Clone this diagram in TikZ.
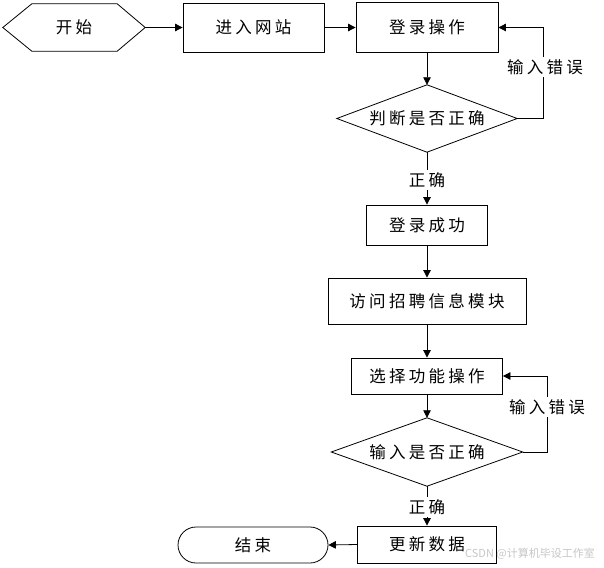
\documentclass[tikz,border=0pt]{standalone}
\usepackage{fontspec}
\newfontfamily\cjk[LetterSpace=20]{Noto Sans CJK SC}
\newfontfamily\cjkw{Noto Sans CJK SC}
\usetikzlibrary{arrows.meta}
\begin{document}
\begin{tikzpicture}[x=1pt,y=-1pt,
  txt/.style={font=\cjk\fontsize{16.5}{20}\selectfont, inner sep=0pt},
  box/.style={txt, draw=black, line width=0.8pt},
  ghost/.style={txt},
  lbl/.style={txt, fill=white, inner sep=2.5pt},
  arr/.style={draw=black, line width=0.8pt, -{Triangle[length=7.5pt,width=7.5pt]}},
  ln/.style={draw=black, line width=0.8pt}]
\useasboundingbox (0,0) rectangle (604,567);
\fill[white] (0,0) rectangle (604,567);

% nodes
\node[ghost, minimum width=142pt, minimum height=47pt] (start) at (74,27.5) {开始};
\draw[ln] (start.west) -- ([xshift=29pt]start.north west) -- ([xshift=-28pt]start.north east)
  -- (start.east) -- ([xshift=-28pt]start.south east) -- ([xshift=29pt]start.south west) -- cycle;

\node[box, minimum width=141pt, minimum height=49pt] (enter) at (253.5,27.5) {进入网站};
\node[box, minimum width=142pt, minimum height=50pt] (login) at (427,27.5) {登录操作};

\node[ghost, minimum width=180pt, minimum height=67pt] (j1) at (427,118.5) {判断是否正确};
\draw[ln] (j1.west) -- (j1.north) -- (j1.east) -- (j1.south) -- cycle;

\node[box, minimum width=121pt, minimum height=40pt] (succ) at (427,225) {登录成功};
\node[box, minimum width=198pt, minimum height=46pt] (visit) at (427,301) {访问招聘信息模块};
\node[box, minimum width=151pt, minimum height=36pt] (select) at (427,376) {选择功能操作};

\node[ghost, minimum width=191pt, minimum height=68pt] (j2) at (427,452) {输入是否正确};
\draw[ln] (j2.west) -- (j2.north) -- (j2.east) -- (j2.south) -- cycle;

\node[box, minimum width=139pt, minimum height=37pt] (update) at (427,544.5) {更新数据};
\node[box, rounded corners=18pt, minimum width=150pt, minimum height=36pt] (end) at (253,545) {结束};

% connectors
\draw[arr] (start.east) -- (enter.west);
\draw[arr] (enter.east) -- (login.west);
\draw[arr] (login.south) -- (j1.north);
\draw[arr] (j1.east) -- ++(26pt,0) |- (login.east);
\node[lbl] (err1) at (545,67) {输入错误};
\draw[arr] (j1.south) -- (succ.north);
\node[lbl] (ok1) at (427,180) {正确};
\draw[arr] (succ.south) -- (visit.north);
\draw[arr] (visit.south) -- (select.north);
\draw[arr] (select.south) -- (j2.north);
\draw[arr] (j2.east) -- ++(24.5pt,0) |- (select.east);
\node[lbl] (err2) at (547,407) {输入错误};
\draw[arr] (j2.south) -- (update.north);
\node[lbl] (ok2) at (427,507) {正确};
\draw[arr] (update.west) -- (end.east);

% watermark
\node[text=black!22, font=\cjkw\fontsize{11}{13}\selectfont, inner sep=0pt] (wm) at (530,554) {CSDN @计算机毕设工作室};
\end{tikzpicture}
\end{document}
